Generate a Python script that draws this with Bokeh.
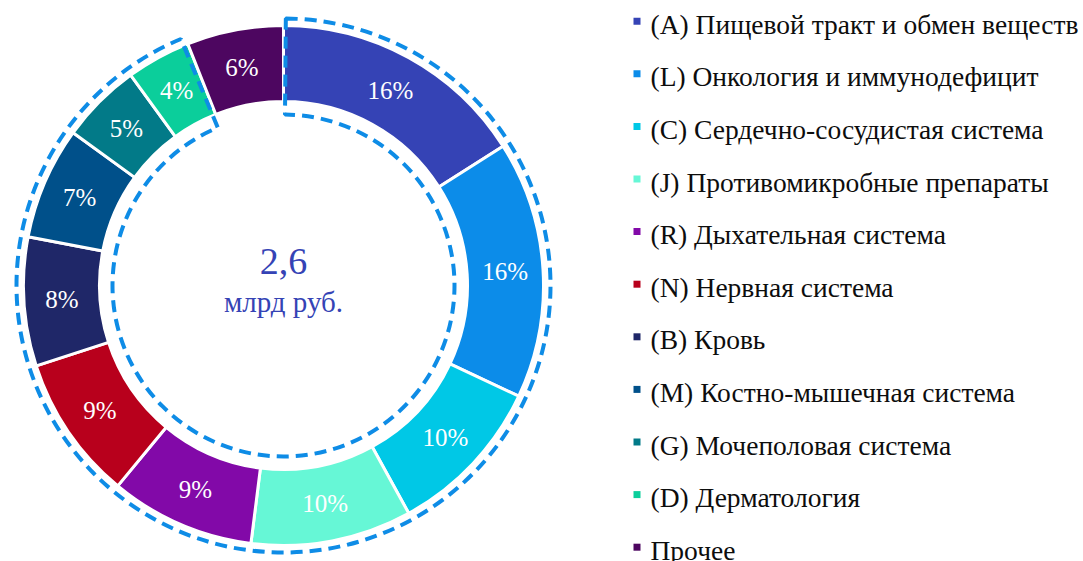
import math
from bokeh.plotting import figure
from bokeh.models import Range1d, ColumnDataSource
from bokeh.core.properties import value
from bokeh.embed import file_html
from bokeh.resources import INLINE

categories = [
    "(A) Пищевой тракт и обмен веществ",
    "(L) Онкология и иммунодефицит",
    "(C) Сердечно-сосудистая система",
    "(J) Противомикробные препараты",
    "(R) Дыхательная система",
    "(N) Нервная система",
    "(B) Кровь",
    "(M) Костно-мышечная система",
    "(G) Мочеполовая система",
    "(D) Дерматология",
    "Прочее",
]
shares = [16, 16, 10, 10, 9, 9, 8, 7, 5, 4, 6]
colors = ["#3543B5", "#0C8CE9", "#00C8E6", "#66F7D6", "#8209A8", "#B8001C",
          "#1F2768", "#00508A", "#027A88", "#0BCE9B", "#4D0660"]
total_value = "2,6"
total_unit = "млрд руб."

W, H = 1083, 561
FONT = value("Liberation Serif")

p = figure(width=W, height=H, output_backend="svg", toolbar_location=None,
           x_range=Range1d(0, W), y_range=Range1d(0, H), min_border=0,
           border_fill_color="white", outline_line_color=None)
p.axis.visible = False
p.grid.visible = False

def Y(img_y):
    return H - img_y

cx, cy = 283, Y(285)
r_in, r_out = 184, 260

tot = sum(shares)
starts, ends, lx, ly = [], [], [], []
cum = 0.0
for v in shares:
    a0 = math.pi / 2 - 2 * math.pi * cum / tot
    a1 = math.pi / 2 - 2 * math.pi * (cum + v) / tot
    starts.append(a0)
    ends.append(a1)
    mid = (a0 + a1) / 2
    rm = (r_in + r_out) / 2
    lx.append(cx + rm * math.cos(mid))
    ly.append(cy + rm * math.sin(mid))
    cum += v

src = ColumnDataSource(dict(start=starts, end=ends, color=colors,
                            lx=lx, ly=ly, lab=[f"{v}%" for v in shares]))
p.annular_wedge(x=cx, y=cy, inner_radius=r_in, outer_radius=r_out,
                start_angle="start", end_angle="end", direction="clock",
                fill_color="color", line_color="white", line_width=3, source=src)
p.text(x="lx", y="ly", text="lab", source=src, text_color="white",
       text_font=FONT, text_font_size="25px", text_align="center",
       text_baseline="middle")

# dashed outline around the named categories
named = sum(shares[:-1])
d0 = math.pi / 2 - math.radians(0.5)
d1 = math.pi / 2 - 2 * math.pi * named / tot + math.radians(1.0)
p.annular_wedge(x=cx, y=cy, inner_radius=171, outer_radius=267,
                start_angle=d0, end_angle=d1, direction="clock",
                fill_alpha=0, line_color="#0E8CE6", line_width=4,
                line_dash="12 7")

# centre text
p.text(x=[cx], y=[Y(261)], text=[total_value], text_color="#3543B5",
       text_font=FONT, text_font_size="38px", text_align="center",
       text_baseline="middle")
p.text(x=[cx], y=[Y(301)], text=[total_unit], text_color="#3543B5",
       text_font=FONT, text_font_size="29px", text_align="center",
       text_baseline="middle")

# legend
leg_y = [Y(20.7 + 52.6 * i) for i in range(len(categories))]
lsrc = ColumnDataSource(dict(y=leg_y, ty=[v - 3 for v in leg_y],
                             color=colors, name=categories))
p.rect(x=636.5, y="y", width=7, height=7, fill_color="color",
       line_color=None, source=lsrc)
p.text(x=650, y="ty", text="name", source=lsrc, text_color="#0D0D0D",
       text_font=FONT, text_font_size="27.5px", text_align="left",
       text_baseline="middle")

open("out.html", "w").write(file_html(p, INLINE))
